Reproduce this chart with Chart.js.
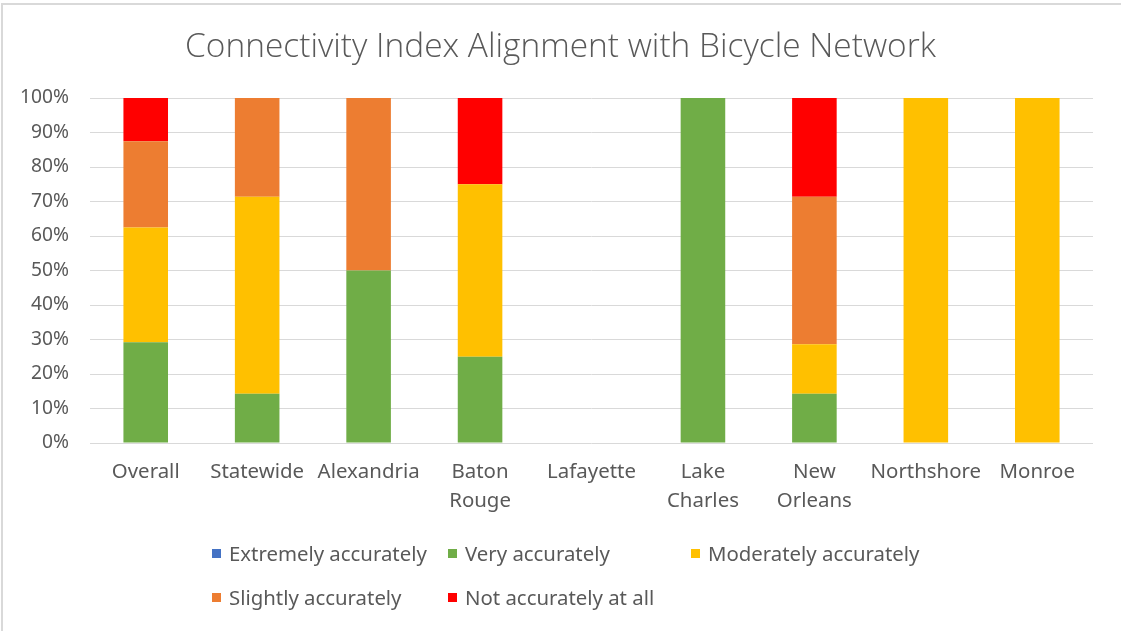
<!DOCTYPE html>
<html>
<head>
<meta charset="utf-8">
<script src="https://cdn.jsdelivr.net/npm/chart.js@4/dist/chart.umd.min.js"></script>
<style>
  body { margin: 0; background: #ffffff; }
  #wrap { position: relative; width: 1121px; height: 631px; overflow: hidden; }
  #frame { position: absolute; left: 1px; top: 3px; width: 1125px; height: 640px;
           border-top: 2px solid #d9d9d9; border-left: 2px solid #d9d9d9; }
  #legend { position: absolute; left: 212px; top: 531px; display: grid;
            grid-template-columns: 236px 243px auto; grid-auto-rows: 44px;
            color: #595959; font-family: 'Noto Sans', sans-serif; }
  .item { display: flex; align-items: center; white-space: nowrap; }
  .box { width: 9px; height: 9px; margin-right: 8px; flex: none; }
</style>
</head>
<body>
<div id="wrap">
  <canvas id="chart" width="1121" height="631"></canvas>
  <div id="frame"></div>
  <div id="legend"></div>
</div>
<script>
const categories = ['Overall', 'Statewide', 'Alexandria', ['Baton', 'Rouge'], 'Lafayette',
                    ['Lake', 'Charles'], ['New', 'Orleans'], 'Northshore', 'Monroe'];
const extremely  = [0, 0, 0, 0, 0, 0, 0, 0, 0];
const very       = [29.2, 14.3, 50, 25, 0, 100, 14.3, 0, 0];
const moderately = [33.3, 57.1, 0, 50, 0, 0, 14.3, 100, 100];
const slightly   = [25, 28.6, 50, 0, 0, 0, 42.8, 0, 0];
const notAtAll   = [12.5, 0, 0, 25, 0, 0, 28.6, 0, 0];
const seriesNames = ['Extremely accurately', 'Very accurately', 'Moderately accurately',
                     'Slightly accurately', 'Not accurately at all'];
const seriesColors = ['#4472c4', '#70ad47', '#ffc000', '#ed7d31', '#ff0000'];
const yTickStep = 10;

const textColor = '#595959';
const family = "'Noto Sans', sans-serif";

// pick a font size so a sample string has the same width as in the picture
function fitSize(text, width, fam, weight) {
    const ctx = document.createElement('canvas').getContext('2d');
    ctx.font = `${weight} 100px ${fam}`;
    return 100 * width / ctx.measureText(text).width;
}

const titleSize = fitSize('Connectivity Index Alignment with Bicycle Network', 751, "'Open Sans', sans-serif", 300);
const yTickSize = fitSize('100%', 49, family, 400);
const xTickSize = fitSize('Statewide', 94, family, 400);
const legendSize = fitSize('Extremely accurately', 198, family, 400);

const datasets = [extremely, very, moderately, slightly, notAtAll].map((data, i) => ({
    label: seriesNames[i],
    data: data,
    backgroundColor: seriesColors[i],
    borderWidth: 0,
    barPercentage: 0.4,
    categoryPercentage: 1
}));

new Chart(document.getElementById('chart'), {
    type: 'bar',
    data: { labels: categories, datasets: datasets },
    options: {
        responsive: false,
        animation: false,
        layout: { padding: 0 },
        plugins: {
            legend: { display: false },
            tooltip: { enabled: false },
            title: {
                display: true,
                text: 'Connectivity Index Alignment with Bicycle Network',
                color: textColor,
                font: { family: "'Open Sans', sans-serif", weight: 300, size: titleSize, lineHeight: 1.2 },
                padding: { top: 47 - 0.6 * titleSize, bottom: 51 - 0.6 * titleSize }
            }
        },
        scales: {
            x: {
                stacked: true,
                grid: { display: false },
                border: { display: false },
                ticks: {
                    color: textColor,
                    font: { family: family, size: xTickSize, lineHeight: 29 / xTickSize },
                    padding: 7,
                    maxRotation: 0,
                    autoSkip: false
                },
                afterFit: (scale) => { scale.height = 631 - 443; }
            },
            y: {
                stacked: true,
                min: 0,
                max: 100,
                border: { display: false },
                grid: { color: '#d9d9d9', lineWidth: 1, drawTicks: false },
                ticks: {
                    stepSize: yTickStep,
                    color: textColor,
                    font: { family: family, size: yTickSize },
                    padding: 21,
                    callback: (v) => v + '%'
                },
                afterFit: (scale) => { scale.width = 90; }
            },
            // empty axis on the right: just leaves the white margin there
            // so the title stays centred on the whole page
            yRight: {
                position: 'right',
                grid: { display: false },
                border: { display: false },
                ticks: { display: false },
                afterFit: (scale) => { scale.width = 28; }
            }
        }
    }
});

// legend laid out like the spreadsheet one: three columns, two rows
const legendEl = document.getElementById('legend');
legendEl.style.fontSize = legendSize + 'px';
seriesNames.forEach((name, i) => {
    const item = document.createElement('div');
    item.className = 'item';
    item.innerHTML = `<span class="box" style="background:${seriesColors[i]}"></span><span>${name}</span>`;
    legendEl.appendChild(item);
});
</script>
</body>
</html>
